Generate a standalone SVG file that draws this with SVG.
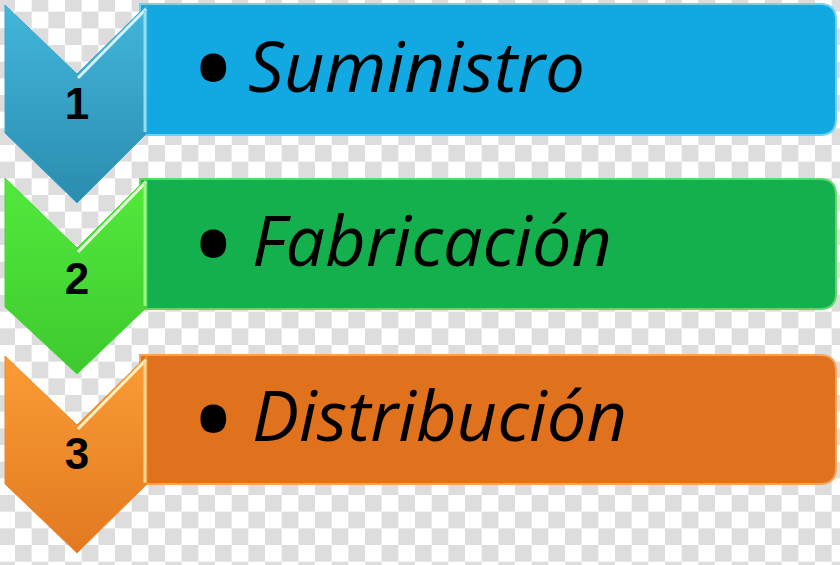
<svg xmlns="http://www.w3.org/2000/svg" width="840" height="565" viewBox="0 0 840 565">
  <defs>
    <pattern id="checker" patternUnits="userSpaceOnUse" x="15" y="-5" width="33.333" height="33.333">
      <rect width="33.333" height="33.333" fill="#ffffff"/>
      <rect x="16.667" y="0" width="16.667" height="16.667" fill="#dddddd"/>
      <rect x="0" y="16.667" width="16.667" height="16.667" fill="#dddddd"/>
    </pattern>
    <linearGradient id="gBlue" x1="0" y1="0" x2="0" y2="1">
      <stop offset="0" stop-color="#42b6da"/>
      <stop offset="1" stop-color="#2a8cb0"/>
    </linearGradient>
    <linearGradient id="gGreen" x1="0" y1="0" x2="0" y2="1">
      <stop offset="0" stop-color="#52ea3c"/>
      <stop offset="1" stop-color="#3ec92f"/>
    </linearGradient>
    <linearGradient id="gOrange" x1="0" y1="0" x2="0" y2="1">
      <stop offset="0" stop-color="#fa9c35"/>
      <stop offset="1" stop-color="#e27921"/>
    </linearGradient>
  </defs>
  <style>
    .chev { stroke-width: 1; stroke-linejoin: miter; }
    .hi { fill: none; stroke-width: 3; stroke-linecap: butt; }
    .box { stroke-width: 2; }
    .label { font-family: "Open Sans", "Liberation Sans", sans-serif; font-style: italic; font-size: 70px; fill: #000000; }
    .bullet { font-family: "Open Sans", "Liberation Sans", sans-serif; font-weight: bold; font-size: 92px; fill: #000000; }
    .num { font-family: "Liberation Sans", Arial, sans-serif; font-weight: bold; font-size: 44px; fill: #000000; text-anchor: middle; }
  </style>

  <rect id="background" x="0" y="0" width="840" height="565" fill="url(#checker)"/>

  <g id="connectors"></g>

  <g id="step1">
    <path class="box" d="M 140 4 H 820 Q 836 4 836 20 V 119 Q 836 135 820 135 H 140 Z" fill="#12a9e2" stroke="#6fd2f4"/>
    <polygon class="chev" points="5,5 77,74 147,5 147,133 77,203 5,133" fill="url(#gBlue)" stroke="#3aa6cc"/>
    <polyline class="hi" points="78,78 146,9" stroke="#d8f6ff"/>
    <line class="hi" x1="145" y1="10" x2="145" y2="132" stroke="#8fe0f6" stroke-width="2"/>
    <text class="num" x="77" y="119">1</text>
    <text class="bullet" x="196" y="101">•</text>
    <text class="label" x="248" y="92" textLength="337" lengthAdjust="spacingAndGlyphs">Suministro</text>
  </g>

  <g id="step2">
    <path class="box" d="M 140 179 H 820 Q 836 179 836 195 V 293 Q 836 309 820 309 H 140 Z" fill="#15b04e" stroke="#5fd86a"/>
    <polygon class="chev" points="5,178 77,248 147,178 147,307 77,374 5,307" fill="url(#gGreen)" stroke="#46d834"/>
    <polyline class="hi" points="78,252 146,182" stroke="#e4ffd8"/>
    <line class="hi" x1="145" y1="183" x2="145" y2="306" stroke="#9ef28c" stroke-width="2"/>
    <text class="num" x="77" y="294">2</text>
    <text class="bullet" x="196" y="277">•</text>
    <text class="label" x="252" y="266" textLength="360" lengthAdjust="spacingAndGlyphs">Fabricación</text>
  </g>

  <g id="step3">
    <path class="box" d="M 140 355 H 820 Q 836 355 836 371 V 468 Q 836 484 820 484 H 140 Z" fill="#e0711d" stroke="#f3a35a"/>
    <polygon class="chev" points="5,356 77,425 147,356 147,484 77,553 5,484" fill="url(#gOrange)" stroke="#f08a2a"/>
    <polyline class="hi" points="78,429 146,360" stroke="#fff2c0"/>
    <line class="hi" x1="145" y1="361" x2="145" y2="483" stroke="#fcd48a" stroke-width="2"/>
    <text class="num" x="77" y="469">3</text>
    <text class="bullet" x="196" y="452">•</text>
    <text class="label" x="252" y="441" textLength="375" lengthAdjust="spacingAndGlyphs">Distribución</text>
  </g>
</svg>
